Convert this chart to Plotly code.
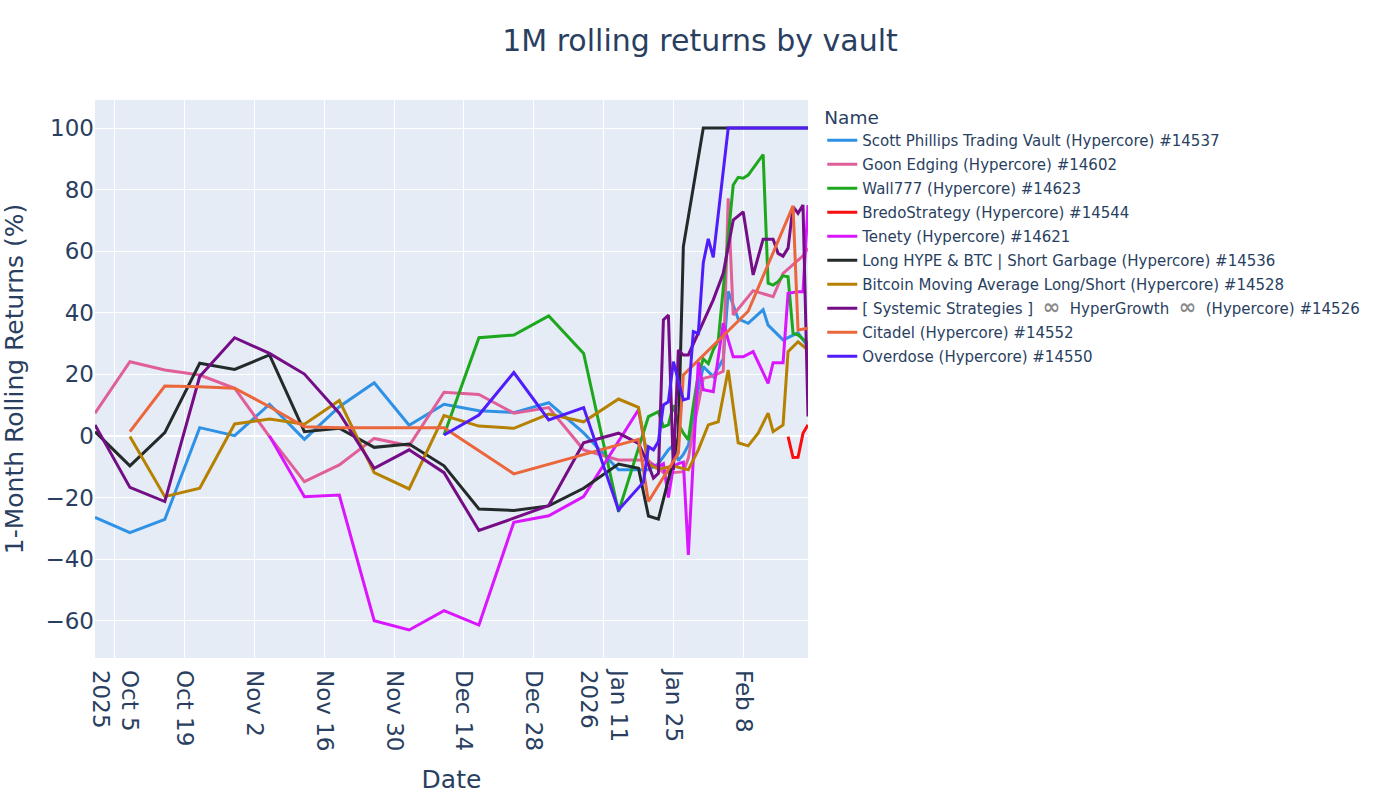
import plotly.graph_objects as go

TITLE = "1M rolling returns by vault"
X_TITLE = "Date"
Y_TITLE = "1-Month Rolling Returns (%)"
LEGEND_TITLE = "Name"

weekly = ["2025-10-01", "2025-10-08", "2025-10-15", "2025-10-22", "2025-10-29",
          "2025-11-05", "2025-11-12", "2025-11-19", "2025-11-26", "2025-12-03",
          "2025-12-10", "2025-12-17", "2025-12-24", "2025-12-31", "2026-01-07",
          "2026-01-14"]

# Scott Phillips Trading Vault
scott_dates = weekly + ["2026-01-18", "2026-01-20", "2026-01-22", "2026-01-24", "2026-01-25",
                        "2026-01-26", "2026-01-27", "2026-01-28", "2026-01-29", "2026-01-30",
                        "2026-01-31", "2026-02-02", "2026-02-04", "2026-02-05", "2026-02-07",
                        "2026-02-09", "2026-02-12", "2026-02-13", "2026-02-16", "2026-02-17",
                        "2026-02-19", "2026-02-21"]
scott_vals = [-26.4, -31.4, -27.1, 2.7, 0.1, 10.3, -1.1, 9.5, 17.3, 3.5, 10.3, 8.2, 7.6, 10.8, 1.0, -11.0,
              -11.0, -11.0, -9.0, -4.5, -3.0, -8.0, -6.0, -3.0, 5.0, 15.0,
              22.5, 19.3, 25.0, 47.0, 38.0, 36.6, 41.0, 36.0, 31.2, 32.0, 33.5, 29.0]

# Goon Edging
goon_dates = weekly + ["2026-01-18", "2026-01-20", "2026-01-23", "2026-01-25", "2026-01-27",
                       "2026-01-28", "2026-01-29", "2026-01-30", "2026-01-31", "2026-02-02",
                       "2026-02-04", "2026-02-05", "2026-02-06", "2026-02-10", "2026-02-14",
                       "2026-02-16", "2026-02-20", "2026-02-21"]
goon_vals = [7.4, 24.1, 21.4, 19.8, 15.5, -0.2, -14.8, -9.4, -0.8, -3.2, 14.2, 13.5, 7.4, 9.2, -4.5, -7.8,
             -7.8, -8.0, -11.9, -11.9, -11.6, -7.2, 2.0, 10.6, 18.7, 19.5,
             21.0, 77.2, 39.3, 47.2, 45.2, 52.8, 58.5, 61.0]

# Wall777
wall_dates = ["2025-12-10", "2025-12-17", "2025-12-24", "2025-12-31", "2026-01-07", "2026-01-14",
              "2026-01-20", "2026-01-22", "2026-01-23", "2026-01-24", "2026-01-25", "2026-01-26",
              "2026-01-27", "2026-01-28", "2026-01-29", "2026-01-30", "2026-01-31", "2026-02-01",
              "2026-02-02", "2026-02-03", "2026-02-06", "2026-02-07", "2026-02-08", "2026-02-09",
              "2026-02-12", "2026-02-13", "2026-02-14", "2026-02-15", "2026-02-16", "2026-02-17",
              "2026-02-18", "2026-02-19", "2026-02-21"]
wall_vals = [0.3, 31.9, 32.8, 39.0, 26.8, -24.6,
             6.3, 7.9, 3.0, 3.6, 10.0, 4.0,
             0.9, -1.3, 10.0, 20.0, 25.0, 23.5,
             28.0, 31.0, 81.5, 84.0, 83.7, 84.7,
             91.4, 49.6, 49.0, 50.1, 52.0, 51.7,
             33.3, 32.8, 30.0]

# BredoStrategy
bredo_dates = ["2026-02-17", "2026-02-18", "2026-02-19", "2026-02-20", "2026-02-21"]
bredo_vals = [-0.2, -7.0, -6.9, 0.9, 3.6]

# Tenety
tenety_dates = ["2025-11-05", "2025-11-12", "2025-11-19", "2025-11-26", "2025-12-03",
                "2025-12-10", "2025-12-17", "2025-12-24", "2025-12-31", "2026-01-07",
                "2026-01-18", "2026-01-20", "2026-01-22", "2026-01-23", "2026-01-24",
                "2026-01-25", "2026-01-26", "2026-01-27", "2026-01-28", "2026-01-30",
                "2026-01-31", "2026-02-02", "2026-02-04", "2026-02-06", "2026-02-08",
                "2026-02-10", "2026-02-13", "2026-02-14", "2026-02-16", "2026-02-17",
                "2026-02-19", "2026-02-20", "2026-02-21"]
tenety_vals = [0.0, -19.7, -19.2, -60.0, -63.0,
               -56.7, -61.4, -28.0, -25.9, -19.7,
               8.5, -9.0, -10.0, -9.0, -20.0,
               -10.0, -9.0, -8.5, -38.6, 24.0,
               15.0, 14.4, 36.6, 25.7, 25.7,
               27.4, 17.1, 23.8, 23.8, 46.3,
               46.8, 46.8, 75.0]

# Long HYPE & BTC | Short Garbage
long_dates = weekly + ["2026-01-18", "2026-01-20", "2026-01-22", "2026-01-25", "2026-01-26",
                       "2026-01-27", "2026-01-31", "2026-02-21"]
long_vals = [1.4, -9.7, 1.1, 23.6, 21.6, 26.3, 1.4, 2.5, -3.7, -2.6, -9.7, -23.7, -24.2, -22.7, -17.0, -9.1,
             -10.5, -26.0, -27.0, -7.8, 0.0, 61.5, 100.0, 100.0]

# Bitcoin Moving Average Long/Short
btc_dates = weekly[1:] + ["2026-01-18", "2026-01-20", "2026-01-22", "2026-01-25", "2026-01-28",
                          "2026-01-30", "2026-02-01", "2026-02-03", "2026-02-05", "2026-02-07",
                          "2026-02-09", "2026-02-11", "2026-02-13", "2026-02-14", "2026-02-16",
                          "2026-02-17", "2026-02-19", "2026-02-21"]
btc_vals = [-0.2, -19.7, -17.0, 3.9, 5.5, 3.8, 11.5, -11.9, -17.2, 6.6, 3.2, 2.5, 7.1, 4.6, 12.0,
            9.3, -9.0, -10.8, -9.8, -11.0,
            -4.5, 3.6, 4.6, 21.4, -2.2,
            -3.2, 0.9, 7.4, 1.4, 3.6,
            27.4, 30.6, 27.9]

# [ Systemic Strategies ] HyperGrowth
sys_dates = weekly + ["2026-01-18", "2026-01-20", "2026-01-21", "2026-01-22", "2026-01-23",
                      "2026-01-24", "2026-01-25", "2026-01-26", "2026-01-27", "2026-01-28",
                      "2026-02-02", "2026-02-04", "2026-02-06", "2026-02-08", "2026-02-10",
                      "2026-02-12", "2026-02-14", "2026-02-15", "2026-02-16", "2026-02-17",
                      "2026-02-18", "2026-02-19", "2026-02-20", "2026-02-21"]
sys_vals = [3.6, -16.7, -21.3, 19.3, 31.9, 26.8, 20.1, 7.4, -10.5, -4.5, -11.9, -30.7, -26.7, -22.6, -2.2, 0.9,
            -2.4, -9.4, -13.7, -12.1, 37.7,
            39.3, -11.0, 27.9, 26.3, 26.3,
            44.2, 52.8, 70.1, 72.8, 52.3,
            63.9, 63.9, 59.3, 58.4, 61.0,
            74.5, 72.3, 75.0, 6.3]

# Citadel
cit_dates = ["2025-10-08", "2025-10-15", "2025-10-22", "2025-10-29", "2025-11-05", "2025-11-12",
             "2025-11-19", "2025-11-26", "2025-12-03", "2025-12-10", "2025-12-24", "2026-01-18",
             "2026-01-20", "2026-01-26", "2026-01-27", "2026-02-09", "2026-02-18", "2026-02-19",
             "2026-02-21"]
cit_vals = [1.4, 16.2, 16.0, 15.5, 9.5, 3.0,
            2.7, 2.7, 2.8, 2.7, -12.3, -1.1,
            -21.3, -5.6, 19.8, 40.5, 74.7, 34.4,
            35.0]

# Overdose
over_dates = ["2025-12-10", "2025-12-17", "2025-12-24", "2025-12-31", "2026-01-07", "2026-01-14",
              "2026-01-19", "2026-01-20", "2026-01-21", "2026-01-22", "2026-01-23", "2026-01-24",
              "2026-01-25", "2026-01-27", "2026-01-28", "2026-01-29", "2026-01-30", "2026-01-31",
              "2026-02-01", "2026-02-02", "2026-02-05", "2026-02-21"]
over_vals = [0.3, 6.8, 20.6, 5.2, 9.2, -24.0,
             -15.0, -3.5, -4.5, -1.8, 10.1, 11.1,
             24.1, 11.7, 12.2, 33.9, 33.3, 56.3,
             64.0, 58.0, 100.0, 100.0]

INF = "\u00a0<span style='font-size:21px;color:#8a8a8a'><b>\u221e</b></span>\u00a0"

series = [
    ("Scott Phillips Trading Vault (Hypercore) #14537", scott_dates, scott_vals, "#2E91E5"),
    ("Goon Edging (Hypercore) #14602", goon_dates, goon_vals, "#E15F99"),
    ("Wall777 (Hypercore) #14623", wall_dates, wall_vals, "#1CA71C"),
    ("BredoStrategy (Hypercore) #14544", bredo_dates, bredo_vals, "#FB0D0D"),
    ("Tenety (Hypercore) #14621", tenety_dates, tenety_vals, "#DA16FF"),
    ("Long HYPE & BTC | Short Garbage (Hypercore) #14536", long_dates, long_vals, "#222A2A"),
    ("Bitcoin Moving Average Long/Short (Hypercore) #14528", btc_dates, btc_vals, "#B68100"),
    ("[ Systemic Strategies ] " + INF + " HyperGrowth " + INF + " (Hypercore) #14526", sys_dates, sys_vals, "#750D86"),
    ("Citadel (Hypercore) #14552", cit_dates, cit_vals, "#EB663B"),
    ("Overdose (Hypercore) #14550", over_dates, over_vals, "#511CFB"),
]

FONT = "DejaVu Sans, Verdana, sans-serif"

fig = go.Figure()
for i, (name, d, v, c) in enumerate(series):
    fig.add_trace(go.Scatter(x=d, y=v, mode="lines", name=name, legendgroup=f"g{i}",
                             line=dict(color=c, width=3)))

fig.update_layout(
    template="plotly",
    width=1400, height=800,
    margin=dict(l=95, r=592, t=100, b=142),
    font=dict(family=FONT, color="#2a3f5f"),
    title=dict(text=TITLE, x=0.5, xanchor="center", y=0.95, yanchor="middle",
               font=dict(size=30)),
    legend=dict(title=dict(text=LEGEND_TITLE, font=dict(size=18.5)), font=dict(size=15),
                tracegroupgap=1.5),
    xaxis=dict(title=dict(text=X_TITLE, font=dict(size=25), standoff=20), tickfont=dict(size=23),
               tickangle=90, dtick=14 * 86400000, tick0="2025-10-05",
               ticklabelstandoff=11,
               range=["2025-10-01", "2026-02-21"]),
    yaxis=dict(title=dict(text=Y_TITLE, font=dict(size=25)), tickfont=dict(size=23),
               dtick=20, range=[-72.1, 109.1]),
)

fig.write_html("out.html")
